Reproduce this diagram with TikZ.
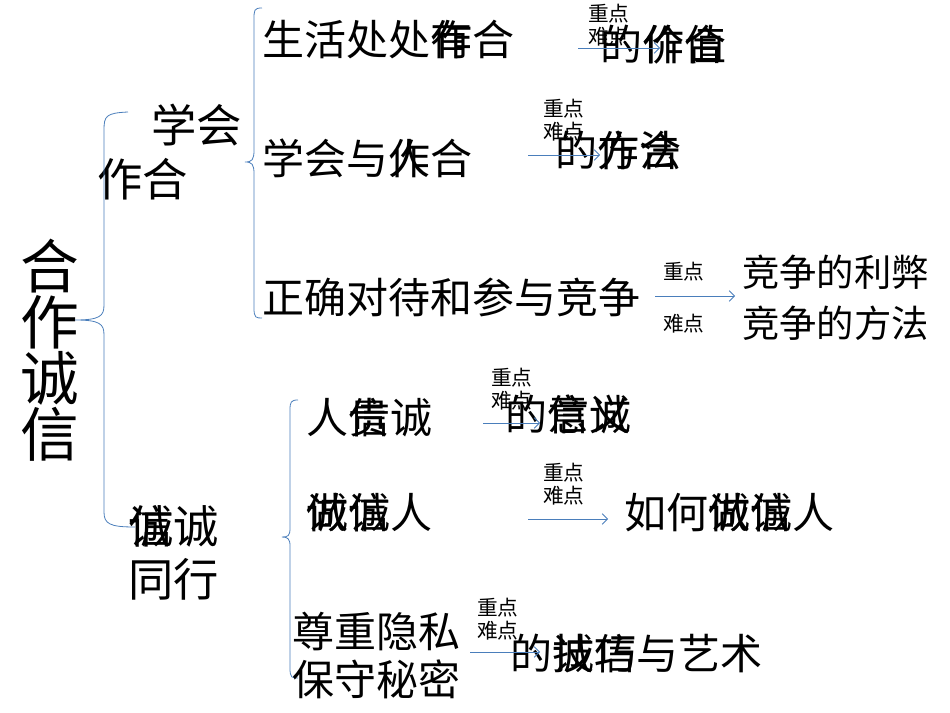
\documentclass[tikz,border=0pt]{standalone}
\usepackage{fontspec}
\setmainfont{Noto Sans CJK SC}
\usetikzlibrary{arrows.meta}
\definecolor{lb}{HTML}{4A7EBB}
\newcommand{\ov}[2]{\makebox[0pt][l]{#1}#2}
\begin{document}
\begin{tikzpicture}[x=0.75pt,y=-0.75pt,
  big/.style={anchor=west,inner sep=0pt,font=\fontsize{31.5}{36}\selectfont},
  lvl/.style={anchor=west,inner sep=0pt,font=\fontsize{34}{40}\selectfont,align=left},
  sml/.style={anchor=west,inner sep=0pt,font=\fontsize{15.5}{17}\selectfont,align=left},
  br/.style={draw=lb,line width=0.6pt},
  con/.style={draw=lb,line width=0.6pt,-{Straight Barb[length=4pt]}}]
\useasboundingbox (0,0) rectangle (950,713);
% title
\node[inner sep=0pt,font=\fontsize{44}{50}\selectfont,align=center] (t) at (50,350) {合\\[-8pt]作\\[-8pt]诚\\[-8pt]信};
% level1
\node[lvl] (l1) at (97,152) {\hspace{1.2em}学会\\作合};
\node[lvl] (l2) at (128,553) {\ov{诚}{信}诚\\同行};
% braces
\draw[br] (128,112) .. controls (106,113) and (104,116) .. (104,130) -- (104,305) .. controls (104,316) and (100,320) .. (75,320) .. controls (100,320) and (104,324) .. (104,335) -- (104,512) .. controls (104,524) and (110,527) .. (135,527);
\draw[br] (262,8) .. controls (254,8) and (254,10) .. (254,20) -- (254,150) .. controls (254,160) and (252,162) .. (245,162) .. controls (252,162) and (254,164) .. (254,174) -- (254,308) .. controls (254,318) and (256,318) .. (262,318);
\draw[br] (298,400) .. controls (291,400) and (290,402) .. (290,410) -- (290,528) .. controls (290,536) and (288,537) .. (282,537) .. controls (288,537) and (290,539) .. (290,546) -- (290,668) .. controls (290,678) and (292,678) .. (298,678);
% level2
\node[big] (a1) at (262,40) {生活处处\ov{有}{作}合};
\node[big] (a2) at (262,158) {学会与\ov{人}{作}合};
\node[big] (a3) at (262,297) {正确对待和参与竞争};
\node[big] (b1) at (306,418) {人\ov{贵}{信}诚};
\node[big] (b2) at (306,513) {\ov{做}{诚}\ov{诚}{信}人};
\node[big,align=left] (b3) at (292,655) {尊重隐私\\保守秘密};
% targets
\node[big] (c1) at (600,45) {的\ov{价}{作}\ov{值}{合}};
\node[big] (c2) at (555,150) {的\ov{方}{作}\ov{法}{合}};
\node[anchor=west,inner sep=0pt,font=\fontsize{28}{38}\selectfont,align=left] (c3) at (742,298) {竞争的利弊\\竞争的方法};
\node[big] (d1) at (505,414) {的\ov{意}{信}\ov{义}{诚}};
\node[big] (d2) at (624,513) {如何\ov{做}{诚}\ov{诚}{信}人};
\node[big] (d3) at (510,654) {的\ov{技}{诚}\ov{巧}{信}与艺术};
% small labels
\node[sml] (s1) at (588,25) {重点\\难点};
\node[sml] (s2) at (543,120) {重点\\难点};
\node[sml] (s3a) at (663,272) {重点};
\node[sml] (s3b) at (663,324) {难点};
\node[sml] (s4) at (491,389) {重点\\难点};
\node[sml] (s5) at (543,484) {重点\\难点};
\node[sml] (s6) at (477,619) {重点\\难点};
% connectors
\coordinate (e1) at (660,48); \coordinate (e2) at (600,155);
\coordinate (e4) at (540,423); \coordinate (e6) at (540,652);
\draw[con] (578,48) -- (e1);
\draw[con] (528,155) -- (e2);
\draw[con] (655,296) -- (735,296);
\draw[con] (483,423) -- (e4);
\draw[con] (528,519) -- (608,519);
\draw[con] (470,652) -- (e6);
\end{tikzpicture}
\end{document}
